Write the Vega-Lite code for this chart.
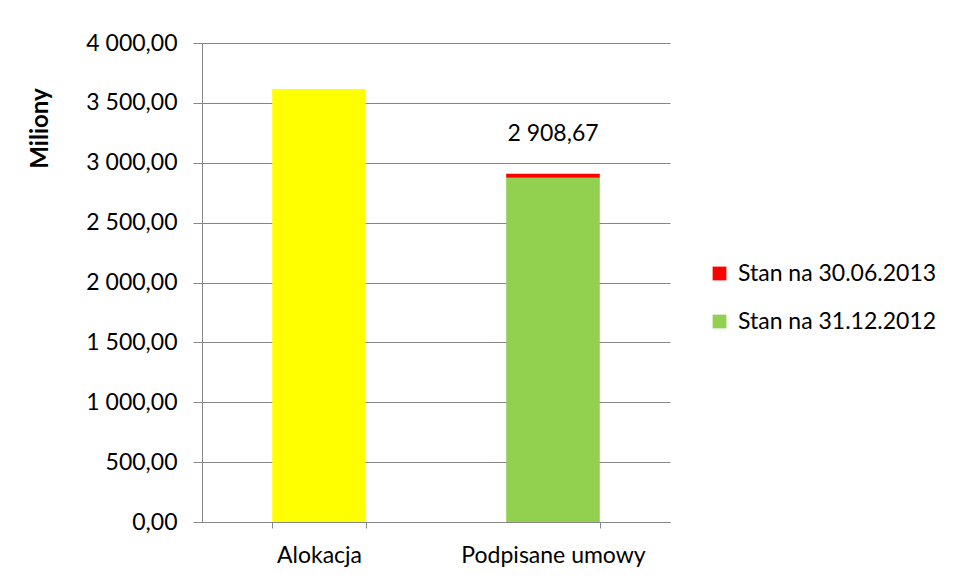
{
  "$schema": "https://vega.github.io/schema/vega-lite/v6.json",
  "autosize": "none",
  "width": 468,
  "height": 479,
  "padding": {"left": 202, "top": 43, "right": 287, "bottom": 61},
  "background": "white",
  "config": {
    "locale": {"number": {"decimal": ",", "thousands": " ", "grouping": [3], "currency": ["", ""]}},
    "view": {"stroke": null},
    "font": "Lato"
  },
  "data": {
    "values": [
      {"kategoria": "Alokacja", "seria": "Alokacja", "wartosc": 3616, "kolejnosc": 0},
      {"kategoria": "Podpisane umowy", "seria": "Stan na 31.12.2012", "wartosc": 2875, "kolejnosc": 1},
      {"kategoria": "Podpisane umowy", "seria": "Stan na 30.06.2013", "wartosc": 33.67, "kolejnosc": 2}
    ]
  },
  "encoding": {
    "x": {
      "field": "kategoria",
      "type": "nominal",
      "sort": ["Alokacja", "Podpisane umowy"],
      "scale": {"paddingInner": 0.6, "paddingOuter": 0.3},
      "axis": {
        "title": null,
        "labelAngle": 0,
        "labelFontSize": 23,
        "labelColor": "#000000",
        "labelPadding": 16,
        "labelLimit": 400,
        "tickBand": "extent",
        "tickSize": 6,
        "tickColor": "#868686",
        "domainColor": "#868686",
        "grid": false
      }
    }
  },
  "layer": [
    {
      "mark": {"type": "bar"},
      "encoding": {
        "y": {
          "field": "wartosc",
          "type": "quantitative",
          "stack": "zero",
          "scale": {"domain": [0, 4000], "nice": false},
          "axis": {
            "title": "Miliony",
            "titleFontSize": 24,
            "titleFontWeight": "bold",
            "titleColor": "#000000",
            "titleX": -162,
            "titleY": 85,
            "titleAngle": -90,
            "titleAlign": "center",
            "titleBaseline": "middle",
            "values": [0, 500, 1000, 1500, 2000, 2500, 3000, 3500, 4000],
            "format": ",.2f",
            "labelFontSize": 23,
            "labelColor": "#000000",
            "labelPadding": 16,
            "tickSize": 9,
            "tickColor": "#868686",
            "domainColor": "#868686",
            "gridColor": "#868686",
            "gridWidth": 1
          }
        },
        "color": {
          "field": "seria",
          "type": "nominal",
          "scale": {
            "domain": ["Stan na 30.06.2013", "Stan na 31.12.2012", "Alokacja"],
            "range": ["#FF0000", "#92D050", "#FFFF00"]
          },
          "legend": {
            "title": null,
            "values": ["Stan na 30.06.2013", "Stan na 31.12.2012"],
            "orient": "none",
            "legendX": 506,
            "legendY": 219,
            "symbolType": "square",
            "symbolSize": 190,
            "symbolStrokeWidth": 0,
            "labelFontSize": 23,
            "labelLimit": 400,
            "labelColor": "#000000",
            "rowPadding": 24,
            "labelOffset": 7
          }
        },
        "order": {"field": "kolejnosc", "type": "quantitative"}
      }
    },
    {
      "transform": [
        {"filter": "datum.kategoria === 'Podpisane umowy'"},
        {"aggregate": [{"op": "sum", "field": "wartosc", "as": "suma"}], "groupby": ["kategoria"]}
      ],
      "mark": {"type": "text", "fontSize": 23, "color": "#000000", "dy": -40, "baseline": "middle"},
      "encoding": {
        "y": {"field": "suma", "type": "quantitative"},
        "text": {"field": "suma", "type": "quantitative", "format": ",.2f"}
      }
    }
  ]
}
